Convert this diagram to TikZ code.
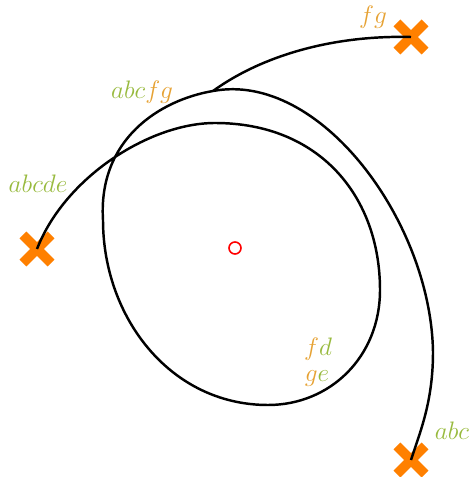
\documentclass[tikz,border=0pt]{standalone}
\usetikzlibrary{shapes.misc}
\definecolor{lblgreen}{RGB}{152,186,62}
\definecolor{lblorange}{RGB}{230,162,52}
\definecolor{crossorange}{RGB}{255,128,0}
\tikzset{
  endpt/.style={cross out, draw=crossorange, line width=5.5pt, minimum size=0.37cm, inner sep=0pt},
  strand/.style={line width=1.4pt},
  lbl/.style={font=\fontsize{13.5}{17}\selectfont, inner sep=0pt}
}
\newcommand{\gr}[1]{\textcolor{lblgreen}{#1}}
\newcommand{\og}[1]{\textcolor{lblorange}{#1}}
\begin{document}
\begin{tikzpicture}[x=0.02cm,y=0.02cm]
  \useasboundingbox (0,0) rectangle (470,477);
  % end points and base point
  \node[endpt] (left) at (37,228) {};
  \node[endpt] (top) at (411,440) {};
  \node[endpt] (bottom) at (411,17) {};
  \node[draw=red, circle, line width=0.9pt, minimum size=0.24cm, inner sep=0pt] (base) at (235,229) {};
  \coordinate (join) at (213,386);
  % strands
  \draw[strand] (left.center) .. controls (65,300) and (150,354) .. (215,354)
    .. controls (320,354) and (380,280) .. (380,187)
    .. controls (380,120) and (330,72) .. (268,72)
    .. controls (170,72) and (103,160) .. (103,257)
    .. controls (98,338) and (160,377) .. (join)
    .. controls (320,406) and (431,255) .. (433,125)
    .. controls (433,75) and (420,45) .. (bottom.center);
  \draw[strand] (join) .. controls (260,420) and (330,442) .. (top.center);
  % labels
  \node[lbl] (lfg) at (373,460) {$\og{f}\og{g}$};
  \node[lbl] (labcfg) at (142,385) {$\gr{a}\gr{b}\gr{c}\og{f}\og{g}$};
  \node[lbl] (labcde) at (38,293) {$\gr{a}\gr{b}\gr{c}\gr{d}\gr{e}$};
  \node[lbl] (lfd) at (318,128) {$\og{f}\gr{d}$};
  \node[lbl] (lge) at (317,98) {$\og{g}\gr{e}$};
  \node[lbl] (labc) at (452,46) {$\gr{a}\gr{b}\gr{c}$};
\end{tikzpicture}
\end{document}
